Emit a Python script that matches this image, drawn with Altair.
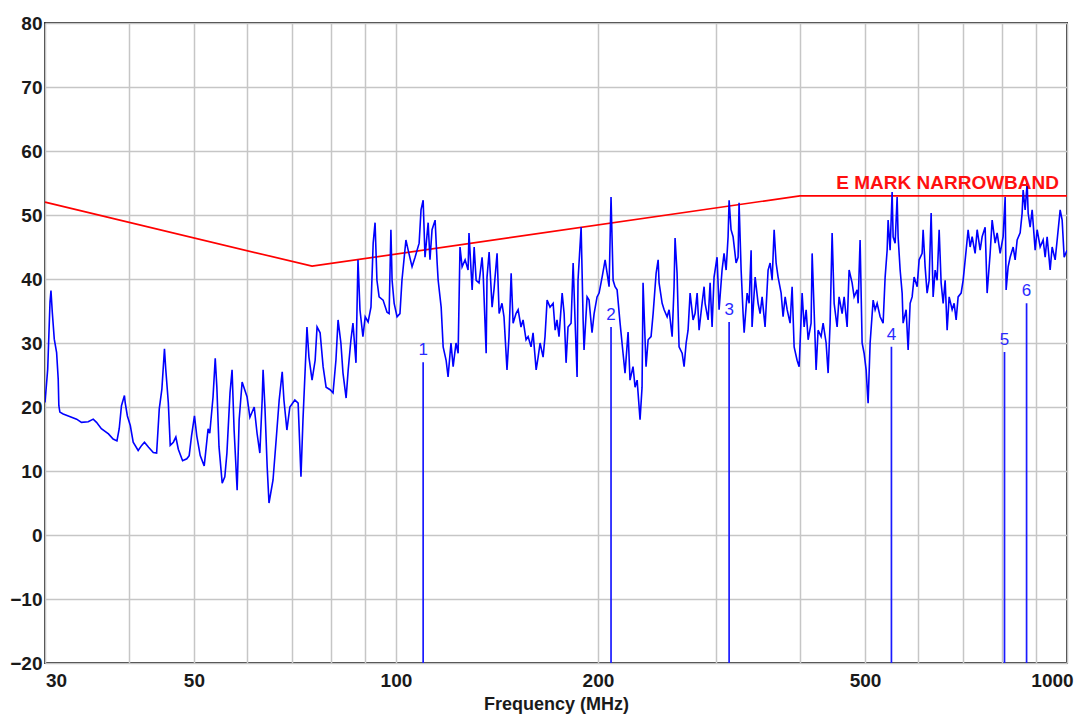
import altair as alt
import pandas as pd

seg1_freq = [30.0, 30.28, 30.52, 30.62, 30.76, 30.97, 31.22, 31.39, 31.46, 31.57, 31.93, 32.5, 33.44, 34.0, 34.8,
             35.4, 35.8, 36.4, 37.3, 37.9, 38.4, 38.7, 39.0, 39.4, 39.5, 39.8, 40.2, 40.6, 41.3, 41.8, 42.2, 42.8,
             43.5, 44.0, 44.4, 44.8, 45.2, 45.4, 45.8, 46.1, 46.6, 47.0, 47.4, 48.1, 48.8, 49.2, 49.6, 50.1, 50.5,
             51.1, 51.8, 52.0, 52.5]
seg1_level = [20.7, 25.9, 36.4, 38.2, 34.8, 30.6, 28.5, 24.4, 20.2, 19.2, 18.9, 18.6, 18.1, 17.6, 17.7,
              18.1, 17.6, 16.6, 15.8, 15.0, 14.7, 16.6, 20.2, 21.8, 20.7, 18.6, 17.1, 14.5, 13.2, 14.0, 14.5, 13.7,
              12.9, 12.8, 19.7, 22.8, 29.1, 25.9, 20.7, 14.0, 14.5, 15.3, 13.4, 11.6, 11.9, 12.4, 15.5, 18.6, 15.5,
              12.4, 10.8, 12.4, 16.6]

seg2_freq = [52.8, 53.4, 53.8, 54.1, 54.5, 55.1, 55.6, 56.0, 56.6, 57.0, 57.4, 58.0, 58.4, 59.0, 60.0, 60.6,
             61.5, 62.1, 62.7, 63.2, 63.4, 63.8, 64.3, 64.7, 65.6, 66.3, 67.0, 67.7, 68.1, 68.8, 69.5, 70.7, 71.5,
             72.2, 72.7, 73.5, 73.7, 74.2, 75.0, 75.8, 76.3, 77.1, 77.9, 78.7, 79.8, 80.6, 81.4, 82.0, 82.8, 83.4,
             84.3, 84.9, 85.7, 86.3, 87.2, 87.5, 87.8, 88.4, 89.3, 90.0, 90.9, 91.8, 92.5]
seg2_level = [15.9, 21.6, 27.6, 23.1, 13.8, 8.1, 9.1, 12.8, 22.2, 25.8, 16.4, 7.0, 18.0, 23.9, 21.6, 18.4,
              20.0, 15.9, 12.8, 21.1, 25.8, 20.0, 10.6, 5.0, 8.6, 14.8, 21.1, 25.5, 21.1, 16.4, 20.0, 21.1, 20.6,
              9.1, 18.0, 29.4, 32.5, 27.8, 24.2, 27.3, 32.5, 31.6, 26.3, 23.1, 22.7, 22.2, 27.3, 33.6, 30.0, 25.3,
              21.4, 25.8, 30.5, 33.1, 26.9, 35.2, 43.0, 35.2, 31.0, 34.1, 33.3, 35.6, 45.6]

seg3_freq = [93.1, 93.7, 94.4, 95.7, 97.0, 97.7, 98.3, 98.7, 99.4, 100.4, 101.4, 102.1, 103.5, 104.3, 105.7,
             106.8, 108.3, 109.0, 109.8, 110.5, 111.7, 112.4, 113.2, 114.4, 115.2, 115.6, 116.8, 117.6, 118.8,
             119.6, 120.8, 121.7, 122.9, 123.8, 124.6, 125.5, 126.8, 128.1, 128.5, 129.9, 130.8, 131.7, 133.0,
             134.4, 134.9, 136.3, 136.7, 137.7, 139.1, 140.0, 141.5, 142.5, 143.9, 144.9, 146.4, 147.4, 148.5,
             149.5, 151.0, 152.1, 153.6, 154.7, 156.3, 157.4, 159.0, 160.1, 161.8, 162.9]
seg3_level = [48.8, 39.8, 37.2, 36.7, 34.8, 34.6, 47.7, 39.8, 36.2, 34.1, 34.6, 39.8, 46.1, 44.5, 41.9,
              43.4, 45.6, 50.8, 52.3, 43.4, 48.8, 43.0, 47.7, 49.2, 42.5, 39.8, 35.6, 29.4, 27.3,
              24.7, 30.0, 26.3, 30.0, 28.4, 45.0, 41.9, 43.0, 41.4, 47.2, 38.3, 45.0, 39.8, 39.4,
              43.4, 40.9, 28.4, 40.3, 44.2, 35.6, 38.3, 44.0, 34.6, 36.2, 34.1, 25.8, 31.0, 40.9,
              33.1, 34.6, 35.2, 32.5, 33.6, 30.5, 31.0, 29.4, 31.6, 25.8, 27.8]

seg4_freq = [164.0, 165.7, 166.8, 168.0, 169.7, 171.5, 172.7, 173.8, 175.0, 176.9, 178.1, 179.3, 180.5, 182.4,
             183.7, 184.9, 186.2, 186.8, 188.8, 190.1, 190.7, 192.7, 194.0, 196.0, 197.4, 199.4, 200.8, 202.9,
             205.0, 206.4, 207.8, 209.2, 210.7, 212.1, 213.6, 215.8, 218.0, 219.5, 221.8, 223.3, 225.6, 227.2,
             228.8, 231.1, 232.7, 233.5, 235.9, 237.6, 240.0, 241.7, 244.2, 245.9, 246.7, 249.3, 251.0, 253.6,
             255.3, 258.0, 259.7, 260.6, 262.4, 264.2, 267.0, 268.8, 270.7, 272.5, 274.4, 277.2, 279.1, 281.1,
             283.0, 285.9, 287.9]
seg4_level = [30.0, 27.8, 31.0, 36.7, 35.6, 36.2, 32.0, 33.6, 31.0, 37.8, 34.6, 26.9, 32.5, 33.1,
              42.5, 33.6, 24.7, 39.8, 48.1, 33.6, 28.9, 37.2, 36.7, 31.6, 34.6, 37.2, 37.8, 40.3,
              43.0, 40.9, 38.8, 52.8, 39.8, 38.8, 38.3, 33.1, 28.4, 25.3, 31.7, 24.2, 26.3, 23.1,
              24.2, 18.0, 23.1, 39.4, 26.3, 30.5, 31.0, 34.6, 40.9, 43.0, 39.4, 36.2, 35.2, 34.1,
              35.2, 31.0, 38.8, 46.4, 40.9, 29.4, 28.4, 26.3, 30.0, 32.0, 37.8, 33.6, 34.6, 37.8,
              32.0, 36.2, 38.8]

seg5_freq = [288.9, 291.9, 293.9, 295.9, 297.9, 301.0, 303.1, 306.2, 308.3, 310.5, 312.6, 313.7, 315.8, 318.0,
             321.3, 323.5, 324.6, 326.9, 329.1, 330.3, 333.7, 336.0, 338.3, 339.4, 343.0, 346.5, 348.9, 351.3,
             354.9, 358.6, 361.1, 363.6, 366.1, 368.6, 371.1, 375.0, 377.5, 380.2, 382.8, 386.7, 389.4, 392.1,
             396.1, 398.9, 403.0, 405.8, 408.6, 411.4, 415.6, 417.1, 419.9, 422.8, 425.7, 430.1, 433.1, 437.6,
             440.6, 443.6, 446.7, 449.8, 454.4, 457.5, 462.3, 465.5, 470.3, 473.5, 478.4, 481.7, 486.7, 488.4,
             491.7, 495.1, 498.5, 502.0, 503.7, 505.4]
seg5_level = [36.2, 33.6, 39.4, 32.5, 40.3, 43.4, 35.2, 41.4, 44.0, 41.4, 46.6, 52.3, 47.7, 46.6,
              42.5, 43.4, 51.9, 41.4, 34.6, 31.6, 37.8, 36.2, 44.5, 32.5, 40.3, 36.2, 34.6, 37.2,
              32.5, 41.4, 42.5, 39.8, 47.7, 42.5, 40.3, 37.8, 34.1, 37.2, 35.2, 33.1, 38.8, 29.4,
              27.3, 26.3, 37.8, 32.5, 35.2, 30.5, 33.1, 44.0, 35.2, 25.8, 32.0, 31.0, 33.1, 30.0,
              25.3, 33.1, 47.2, 36.2, 32.5, 37.2, 34.6, 37.2, 32.5, 41.4, 39.4, 37.2, 38.3, 36.2,
              46.1, 30.0, 28.4, 25.8, 23.1, 20.6]

seg6_freq = [508.9, 514.2, 517.7, 521.3, 526.7, 532.1, 535.8, 539.5, 541.3, 545.0, 548.8, 550.7, 554.5, 558.3,
             560.2, 564.1, 568.0, 569.9, 575.8, 579.8, 583.8, 587.8, 591.8, 598.0, 602.1, 608.3, 610.4, 614.6,
             618.8, 623.1, 627.4, 631.7, 636.1, 640.4, 644.9, 649.3, 653.8, 658.3, 662.8, 667.4, 674.3, 678.9,
             683.6, 688.3, 695.4, 700.2, 707.5, 712.3, 717.2, 722.2, 729.6, 734.7, 742.3, 747.4, 755.1, 760.3,
             768.2, 773.5, 781.5, 786.9, 795.0, 803.2, 808.8, 811.5, 817.1, 822.7, 831.3, 837.0, 842.8, 851.5,
             857.3, 860.3, 866.2, 872.2, 875.2, 881.2, 887.3, 896.5, 902.6, 912.0, 921.4, 927.8, 934.1, 943.8,
             950.3, 960.2, 966.8, 976.8, 983.5, 990.3, 1000.0]
seg6_level = [30.0, 36.7, 35.2, 36.2, 34.1, 33.1, 40.3, 44.5, 49.2, 44.5, 53.6, 46.6, 45.6, 52.8,
              46.6, 41.4, 37.8, 33.1, 35.2, 28.9, 36.2, 37.2, 40.3, 38.8, 43.0, 44.0, 47.7, 41.9,
              37.8, 39.8, 50.3, 37.2, 41.4, 39.8, 47.7, 39.4, 36.2, 39.8, 32.0, 37.2, 35.2, 36.2,
              33.6, 37.2, 37.8, 39.8, 44.5, 47.7, 45.0, 46.6, 44.0, 47.7, 44.5, 46.6, 48.1, 37.8,
              44.0, 49.2, 45.6, 47.2, 44.0, 46.6, 52.8, 38.3, 41.9, 43.4, 45.0, 43.0, 46.1, 47.2,
              50.3, 53.9, 50.8, 55.0, 50.3, 48.1, 50.8, 44.5, 47.7, 45.0, 46.1, 43.4, 46.6, 41.4,
              45.0, 43.0, 46.1, 50.8, 49.2, 43.4, 44.5]

# ---- limit line ----
limit_freq = [30, 75, 400, 1000]
limit_level = [52, 42, 53, 53]
limit_name = "E MARK NARROWBAND"

# ---- markers ----
marker_id = ["1", "2", "3", "4", "5", "6"]
marker_freq = [109.8, 209.2, 313.7, 547.5, 807.0, 870.5]
marker_level = [27.0, 32.5, 33.3, 29.4, 28.6, 36.2]

# ---- axis ticks ----
x_grid = [30, 40, 50, 60, 70, 80, 90, 100, 200, 300, 400, 500, 600, 700, 800, 900, 1000]
x_labels = [30, 50, 100, 200, 500, 1000]
y_ticks = [-20, -10, 0, 10, 20, 30, 40, 50, 60, 70, 80]

freq, level = [], []
for f, l in [(seg1_freq, seg1_level), (seg2_freq, seg2_level), (seg3_freq, seg3_level),
             (seg4_freq, seg4_level), (seg5_freq, seg5_level), (seg6_freq, seg6_level)]:
    assert len(f) == len(l), (len(f), len(l))
    freq += f
    level += l

spec = pd.DataFrame({"freq": freq, "level": level})
limit = pd.DataFrame({"freq": limit_freq, "level": limit_level})
marks = pd.DataFrame({"id": marker_id, "freq": marker_freq, "level": marker_level,
                      "base": [-20] * len(marker_id)})
limit_lbl = pd.DataFrame({"freq": [limit_freq[-1]], "level": [limit_level[-1]], "txt": [limit_name]})

FONT = "Liberation Sans"
xs = alt.Scale(type="log", domain=[30, 1000], nice=False)
ys = alt.Scale(domain=[-20, 80], nice=False, zero=False)

label_list = ",".join(str(v) for v in x_labels)
x_axis = alt.Axis(
    values=x_grid,
    labelExpr=f"indexof([{label_list}], datum.value) >= 0 ? format(datum.value, 'd') : ''",
    labelOverlap=False,
    labelFlush=False,
    labelOffset={"condition": [{"test": "datum.value == 30", "value": 11},
                               {"test": "datum.value == 1000", "value": -15}], "value": 0},
    title="Frequency (MHz)",
    titleFont=FONT, titleFontSize=18, titleFontWeight="bold", titleColor="#1a1a1a",
    titlePadding=5,
    labelFont=FONT, labelFontSize=19, labelFontWeight="bold", labelColor="#1a1a1a",
    labelPadding=8,
    ticks=False, domain=False,
    grid=True, gridColor="#c6c6c6", gridWidth=1.5,
)
y_axis = alt.Axis(
    values=y_ticks, title=None,
    labelFont=FONT, labelFontSize=19, labelFontWeight="bold", labelColor="#1a1a1a",
    labelPadding=3, ticks=False, domain=False,
    grid=True, gridColor="#c6c6c6", gridWidth=1.5,
)

X = alt.X("freq:Q", scale=xs, axis=x_axis)
Y = alt.Y("level:Q", scale=ys, axis=y_axis)

limit_line = alt.Chart(limit).mark_line(color="#ff0000", strokeWidth=1.7).encode(x=X, y=Y)
limit_text = alt.Chart(limit_lbl).mark_text(
    color="#ff1010", font=FONT, fontSize=19, fontWeight="bold", align="right",
    baseline="alphabetic", dx=-8, dy=-7
).encode(x=X, y=Y, text="txt:N")

spectrum = alt.Chart(spec).mark_line(color="#0000ff", strokeWidth=1.6, clip=True).encode(x=X, y=Y)

marker_rules = alt.Chart(marks).mark_rule(color="#1a1aff", strokeWidth=1.7).encode(
    x=X, y=Y, y2=alt.Y2("base:Q"))
marker_text = alt.Chart(marks).mark_text(
    color="#2a2aff", font=FONT, fontSize=17, baseline="bottom", dy=-3
).encode(x=X, y=Y, text="id:N")

chart = alt.layer(limit_line, spectrum, marker_rules, marker_text, limit_text).properties(
    width=1022, height=640,
    autosize=alt.AutoSizeParams(type="none"),
    padding={"left": 37, "top": 15, "right": 9, "bottom": 52},
    background="white",
).configure_view(stroke="#333333", strokeWidth=2)

chart.save("out.html", embed_options={"renderer": "svg", "actions": False})
